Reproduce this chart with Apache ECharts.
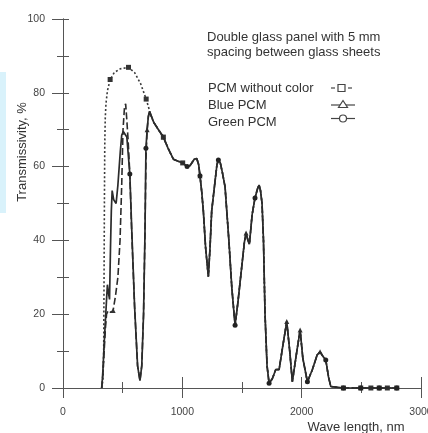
<!DOCTYPE html>
<html><head><meta charset="utf-8">
<script src="https://cdn.jsdelivr.net/npm/echarts@6/dist/echarts.min.js"></script>
<style>html,body{margin:0;padding:0;background:#fff;overflow:hidden}#c{width:428px;height:433px}</style>
</head><body><div id="c"></div>
<script>
// Shared part of all three curves (wavelength nm, transmissivity %)
const commonWl  = [725,760,800,841,880,925,960,1003,1040,1065,1100,1121,1137,1148,1163,1176,1195,1218,1232,1246,1274,1290,1302,1318,1335,1358,1390,1415,1442,1465,1495,1520,1534,1550,1562,1585,1609,1630,1643,1655,1668,1680,1693,1710,1727,1754,1783,1811,1840,1875,1900,1922,1955,1987,2010,2048,2090,2130,2154,2180,2202,2225,2244,2350,2495,2580,2650,2718,2797];
const commonVal = [75,72,70,68,65,62,61.5,61,60,60.3,62,62.2,60.5,57.5,53,48,38,30.2,38,48,56,60.5,61.8,61,58.5,54.5,40,27,17,23,32,39.5,42,40,39,47,51.5,54,55,53.5,50,40,20,6,1.3,2.5,5,5,11,18,10,1.7,9,15.7,8,1.7,5,9,9.8,8.5,7.6,3,0.4,0,0,0,0,0,0];

// Series-specific leading parts (short wavelengths)
const noColorWl  = [322,335,341,344,347,350,354,360,372,395,430,480,549,600,650,697,740];
const noColorVal = [0,2,10,30,50,66,73,77,80.5,83.6,85.5,86.5,86.9,85.5,82.5,78.3,73.5];
const blueWl  = [325,335,345,355,365,380,400,420,440,460,478,492,503,515,525,534,545,560,576,600,625,645,660,675,687,695,705,715];
const blueVal = [0,4,10,16,20,21,20.5,21,25,30,40,55,70,76,77,73,67.5,58,42,22,6,2,6,20,42,62,70,73.5];
const greenWl  = [325,335,345,355,365,372,380,390,398,405,412,425,445,460,480,492,505,520,535,548,560,576,600,625,645,660,675,687,695,705,715];
const greenVal = [0,5,12,18,24,28,26,24,38,48,53.5,51,50,55,64,68.5,69.5,69.5,68,67.5,58,43,22,6,2,6,20,42,65,70,73.5];

// Wavelengths where markers are drawn
const noColorMarks = [395,549,697,841,1003,2350,2495,2580,2650,2718,2797];
const blueMarks = [420,705,841,1148,1534,1875,1987,2154];
const greenMarks = [560,695,1040,1148,1302,1442,1609,1727,2048,2202,2350,2495,2650,2797];

const seriesNames = ['PCM without color','Blue PCM','Green PCM'];
const xTicks = [0,1000,2000,3000];

function build(wl, val) {
  const out = [];
  for (let i = 0; i < wl.length; i++) out.push([wl[i], val[i]]);
  const last = wl[wl.length - 1];
  for (let i = 0; i < commonWl.length; i++) if (commonWl[i] > last) out.push([commonWl[i], commonVal[i]]);
  return out;
}
function sizer(marks, s) {
  const set = new Set(marks);
  return function (v) { return set.has(v[0]) ? s : 0; };
}
const ink = '#2b2b2b';
const axisCol = '#555';
const txt = (x, y, s, extra) => Object.assign({ type: 'text', x: x, y: y,
  style: { text: s, font: '13px "Liberation Sans"', fill: '#333', align: 'left', verticalAlign: 'middle' } }, extra || {});
const chart = echarts.init(document.getElementById('c'));
chart.setOption({
  animation: false,
  backgroundColor: '#fff',
  grid: { left: 63, right: 7, top: 19, bottom: 45, containLabel: false, outerBoundsMode: 'none' },
  xAxis: [
    { type: 'value', position: 'bottom', min: 0, max: 3000, interval: 1000,
      axisLine: { show: true, lineStyle: { color: axisCol, width: 1 } },
      axisTick: { show: true, length: 10, lineStyle: { color: axisCol } },
      minorTick: { show: true, splitNumber: 2, length: 5, lineStyle: { color: axisCol } },
      splitLine: { show: false }, minorSplitLine: { show: false },
      axisLabel: { color: '#444', fontSize: 10.5, fontFamily: 'Liberation Sans', margin: 19,
        hideOverlap: false, showMaxLabel: true, showMinLabel: true,
        formatter: v => xTicks.indexOf(v) >= 0 ? String(v) : '' } },
    { type: 'value', position: 'top', min: 0, max: 3000, interval: 1000,
      axisLine: { show: true, lineStyle: { color: axisCol, width: 1 } },
      axisTick: { show: true, length: 11, lineStyle: { color: axisCol } },
      minorTick: { show: true, splitNumber: 2, length: 6, lineStyle: { color: axisCol } },
      splitLine: { show: false }, axisLabel: { show: false } }
  ],
  yAxis: [
    { type: 'value', position: 'left', min: 0, max: 100, interval: 20,
      axisLine: { show: true, lineStyle: { color: axisCol, width: 1 } },
      axisTick: { show: true, length: 11, lineStyle: { color: axisCol } },
      minorTick: { show: true, splitNumber: 2, length: 6, lineStyle: { color: axisCol } },
      splitLine: { show: false },
      axisLabel: { color: '#444', fontSize: 10.5, fontFamily: 'Liberation Sans', margin: 18 } },
    { type: 'value', position: 'right', min: 0, max: 100, interval: 10,
      axisLine: { show: true, lineStyle: { color: axisCol, width: 1 } },
      axisTick: { show: true, length: 6, lineStyle: { color: axisCol } },
      splitLine: { show: false }, axisLabel: { show: false } }
  ],
  series: [
    { name: seriesNames[0], type: 'line', data: build(noColorWl, noColorVal),
      symbol: 'rect', symbolSize: sizer(noColorMarks, 5), showAllSymbol: true,
      itemStyle: { color: '#333' }, lineStyle: { color: '#3a3a3a', width: 1.6, type: [2, 2.2] }, z: 2 },
    { name: seriesNames[1], type: 'line', data: build(blueWl, blueVal),
      symbol: 'triangle', symbolSize: sizer(blueMarks, 5), showAllSymbol: true,
      itemStyle: { color: '#333' }, lineStyle: { color: ink, width: 1.6, type: [7, 3] }, z: 3 },
    { name: seriesNames[2], type: 'line', data: build(greenWl, greenVal),
      symbol: 'circle', symbolSize: sizer(greenMarks, 5), showAllSymbol: true,
      itemStyle: { color: '#222' }, lineStyle: { color: ink, width: 1.7 }, z: 4 }
  ],
  graphic: [
    { type: 'rect', shape: { x: 0, y: 72, width: 6, height: 141 }, style: { fill: '#d9f2fb' }, z: 0 },
    txt(22, 152, 'Transmissivity, %', { rotation: Math.PI / 2, style: { text: 'Transmissivity, %', font: '13px "Liberation Sans"', fill: '#333', align: 'center', verticalAlign: 'middle' } }),
    txt(356, 427, 'Wave length, nm', { style: { text: 'Wave length, nm', font: '13px "Liberation Sans"', fill: '#333', align: 'center', verticalAlign: 'middle' } }),
    txt(207, 37, 'Double glass panel with 5 mm'),
    txt(207, 52, 'spacing between glass sheets'),
    txt(208, 88, seriesNames[0]),
    txt(208, 105, seriesNames[1]),
    txt(208, 122, seriesNames[2]),
    { type: 'line', shape: { x1: 331, y1: 88, x2: 335, y2: 88 }, style: { stroke: '#444', lineWidth: 1.2 } },
    { type: 'line', shape: { x1: 348, y1: 88, x2: 352, y2: 88 }, style: { stroke: '#444', lineWidth: 1.2 } },
    { type: 'rect', shape: { x: 338, y: 84.5, width: 7, height: 7 }, style: { stroke: '#444', fill: '#fff', lineWidth: 1.2 } },
    { type: 'line', shape: { x1: 331, y1: 105, x2: 355, y2: 105 }, style: { stroke: '#444', lineWidth: 1.2 } },
    { type: 'polygon', shape: { points: [[343, 100.5], [347.5, 107.5], [338.5, 107.5]] }, style: { stroke: '#444', fill: '#fff', lineWidth: 1.2 } },
    { type: 'line', shape: { x1: 331, y1: 118.5, x2: 355, y2: 118.5 }, style: { stroke: '#444', lineWidth: 1.2 } },
    { type: 'circle', shape: { cx: 343, cy: 118.5, r: 3.5 }, style: { stroke: '#444', fill: '#fff', lineWidth: 1.2 } }
  ]
});
</script></body></html>
